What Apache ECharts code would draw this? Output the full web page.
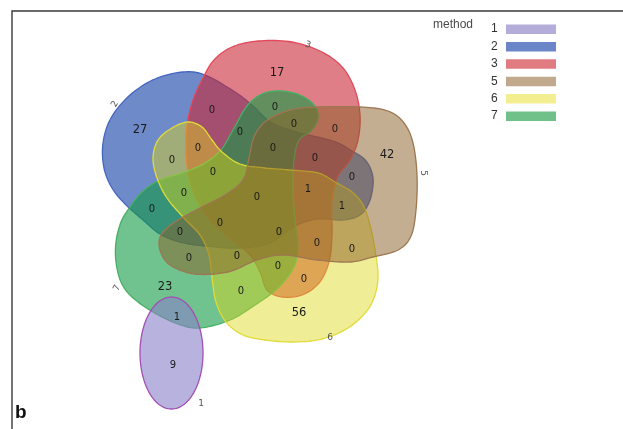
<!DOCTYPE html>
<html>
<head>
<meta charset="utf-8">
<script src="https://cdn.jsdelivr.net/npm/echarts@6/dist/echarts.min.js"></script>
<style>
  html, body { margin: 0; padding: 0; background: #ffffff; }
  #chart { width: 623px; height: 429px; }
</style>
</head>
<body>
<div id="chart"></div>
<script>
// ---- data ----------------------------------------------------------
// methods (sets) in legend order
const setNames = ['1', '2', '3', '5', '6', '7'];
// number of items in each region of the diagram
const regionCounts = [
  17, 27, 42, 56, 23, 9, 1,
  0, 0, 0, 0, 0, 0, 0, 0, 0, 0, 0, 1, 0, 0, 1,
  0, 0, 0, 0, 0, 0, 0, 0, 0, 0, 0
];

// ---- layout (plot coordinates, y pointing down) --------------------
const regionAnchors = [
  [277, 73], [140, 130], [387, 155], [299, 313], [165, 287], [173, 365], [177, 317],
  [212, 110], [275, 107], [294, 124], [335, 129], [240, 132], [273, 148], [198, 148],
  [172, 160], [213, 172], [315, 158], [352, 177], [308, 189], [184, 193], [257, 197],
  [342, 206], [152, 209], [220, 223], [180, 232], [279, 232], [317, 243], [352, 249],
  [189, 258], [237, 256], [278, 266], [304, 279], [241, 291]
];

// outline control points of each set
const setOutlines = {
  '2': [[205,75],[235,92],[253,106],[272,123],[300,133],[333,141],[352,151],[366,161],[373,178],
        [370,200],[360,215],[342,220],[318,219],[295,226],[270,243],[240,248],[205,246],[180,242],
        [160,234],[143,220],[125,204],[112,188],[104,168],[103,143],[111,118],[130,95],[155,79],[183,72]],
  '3': [[187,125],[193,100],[203,78],[214,60],[232,47],[258,41],[292,42],[322,52],[343,68],[355,90],
        [360,115],[358,140],[350,160],[338,176],[332,200],[332,235],[329,262],[319,283],[302,295],
        [282,297],[267,290],[260,272],[250,255],[232,240],[212,222],[197,200],[189,178],[186,150]],
  '5': [[317,107],[360,107],[388,111],[404,123],[413,143],[417,175],[416,210],[411,236],[398,250],
        [373,257],[350,262],[317,260],[283,255],[257,260],[228,272],[195,274],[170,265],[160,250],
        [161,235],[175,222],[200,208],[225,195],[243,180],[249,158],[254,137],[266,121],[290,110]],
  '6': [[188,122],[202,127],[212,140],[222,152],[240,164],[265,168],[290,170],[318,173],[335,182],
        [352,192],[363,205],[370,225],[375,250],[378,275],[375,295],[366,312],[348,328],[322,339],
        [293,342],[265,340],[243,335],[226,322],[216,302],[212,278],[209,255],[200,235],[183,217],
        [167,198],[157,178],[153,158],[158,140],[172,128]],
  '7': [[262,94],[280,91],[300,95],[314,105],[318,118],[311,131],[299,140],[294,160],[293,190],
        [295,220],[298,245],[294,267],[278,288],[255,305],[230,320],[200,328],[178,324],[153,312],
        [132,297],[121,282],[116,262],[116,242],[121,222],[130,207],[142,192],[160,180],[185,172],
        [205,163],[221,150],[233,130],[247,106]]
};
// set 1 is an ellipse: centre, radii
const ellipseShape = { '1': { cx: 171.5, cy: 353, rx: 31.5, ry: 56 } };

// set name labels: position and rotation (degrees, counter-clockwise)
const setLabelAnchors = {
  '1': [201, 404, 0], '2': [115, 104, 60], '3': [308, 45, -18],
  '5': [423, 173, -90], '6': [330, 338, 0], '7': [117, 288, 65]
};

// ---- styles -------------------------------------------------------
const setStyle = {
  '1': { fill: [137, 128, 200], alpha: 0.6,  stroke: '#a34fb4', legend: '#b4acd9' },
  '2': { fill: [15, 60, 165],   alpha: 0.6,  stroke: '#4466c0', legend: '#6a86c8' },
  '3': { fill: [202, 40, 53],   alpha: 0.6,  stroke: '#e2485a', legend: '#e07b82' },
  '5': { fill: [137, 93, 37],   alpha: 0.5,  stroke: '#9d7652', legend: '#c0a98c' },
  '6': { fill: [222, 215, 24],  alpha: 0.45, stroke: '#e0db36', legend: '#f3ef91' },
  '7': { fill: [17, 153, 67],   alpha: 0.6,  stroke: '#46b064', legend: '#70c08a' }
};
// painting order of the sets
const drawOrder = ['2', '3', '7', '6', '5', '1'];

// closed Catmull-Rom spline through the control points
function splinePoints(pts, steps) {
  const n = pts.length, out = [];
  for (let i = 0; i < n; i++) {
    const p0 = pts[(i - 1 + n) % n], p1 = pts[i], p2 = pts[(i + 1) % n], p3 = pts[(i + 2) % n];
    for (let s = 0; s < steps; s++) {
      const t = s / steps, t2 = t * t, t3 = t2 * t;
      const f = (a, b, c, d) => 0.5 * ((2 * b) + (-a + c) * t + (2 * a - 5 * b + 4 * c - d) * t2 + (-a + 3 * b - 3 * c + d) * t3);
      out.push([f(p0[0], p1[0], p2[0], p3[0]), f(p0[1], p1[1], p2[1], p3[1])]);
    }
  }
  return out;
}
function ellipsePoints(e, n) {
  const out = [];
  for (let k = 0; k < n; k++) {
    const a = 2 * Math.PI * k / n;
    out.push([e.cx + e.rx * Math.cos(a), e.cy + e.ry * Math.sin(a)]);
  }
  return out;
}

const chart = echarts.init(document.getElementById('chart'), null, { renderer: 'canvas' });

const legendFont = '12px "Liberation Sans", Arial, sans-serif';
const legendGraphics = [{
  type: 'text', left: 433, top: 19,
  style: { text: 'method', font: legendFont, fill: '#4a4a4a' }
}];
setNames.forEach((name, k) => {
  const y = 24.5 + k * 17.4;
  legendGraphics.push({
    type: 'text', left: 491, top: y - 1.5,
    style: { text: name, font: legendFont, fill: '#333' }
  });
  legendGraphics.push({
    type: 'rect', shape: { x: 506, y: y, width: 50, height: 9.5 },
    style: { fill: setStyle[name].legend }
  });
});

chart.setOption({
  animation: false,
  backgroundColor: '#ffffff',
  grid: { left: 0, right: 0, top: 0, bottom: 0 },
  xAxis: { type: 'value', min: 0, max: 623, show: false },
  yAxis: { type: 'value', min: 0, max: 429, inverse: true, show: false },
  graphic: [
    { type: 'rect', shape: { x: 12, y: 11, width: 640, height: 440 },
      style: { fill: 'none', stroke: '#3a3a3a', lineWidth: 1.4 }, z: 100 },
    { type: 'text', left: 15, top: 403,
      style: { text: 'b', font: 'bold 19px "Liberation Sans", Arial, sans-serif', fill: '#111' } },
    ...legendGraphics
  ],
  series: [
    {
      // set shapes
      type: 'custom',
      coordinateSystem: 'cartesian2d',
      clip: false,
      silent: true,
      data: drawOrder.map(name => [setNames.indexOf(name)]),
      encode: { x: 0 },
      renderItem: function (params, api) {
        const name = setNames[api.value(0)];
        const st = setStyle[name];
        const raw = ellipseShape[name] ? ellipsePoints(ellipseShape[name], 120)
                                        : splinePoints(setOutlines[name], 10);
        const pts = raw.map(p => api.coord(p));
        return {
          type: 'polygon',
          shape: { points: pts },
          style: {
            fill: 'rgba(' + st.fill.join(',') + ',' + st.alpha + ')',
            stroke: st.stroke, lineWidth: 1.3
          }
        };
      }
    },
    {
      // region counts
      type: 'custom',
      coordinateSystem: 'cartesian2d',
      clip: false,
      silent: true,
      data: regionCounts.map((c, k) => [regionAnchors[k][0], regionAnchors[k][1], c]),
      renderItem: function (params, api) {
        const p = api.coord([api.value(0), api.value(1)]);
        const v = api.value(2);
        const size = v >= 10 ? 11.5 : 10;
        return {
          type: 'text', x: p[0], y: p[1], z2: 10,
          style: {
            text: String(v), align: 'center', verticalAlign: 'middle',
            font: size + 'px "DejaVu Sans", Verdana, sans-serif', fill: '#1a1a1a'
          }
        };
      }
    },
    {
      // set names beside the shapes
      type: 'custom',
      coordinateSystem: 'cartesian2d',
      clip: false,
      silent: true,
      data: setNames.map((name, k) => [setLabelAnchors[name][0], setLabelAnchors[name][1], k]),
      renderItem: function (params, api) {
        const name = setNames[api.value(2)];
        const p = api.coord([api.value(0), api.value(1)]);
        return {
          type: 'text', x: p[0], y: p[1],
          rotation: setLabelAnchors[name][2] * Math.PI / 180,
          style: {
            text: name, align: 'center', verticalAlign: 'middle',
            font: '9px "DejaVu Sans", Verdana, sans-serif', fill: '#555'
          }
        };
      }
    }
  ]
});
</script>
</body>
</html>
